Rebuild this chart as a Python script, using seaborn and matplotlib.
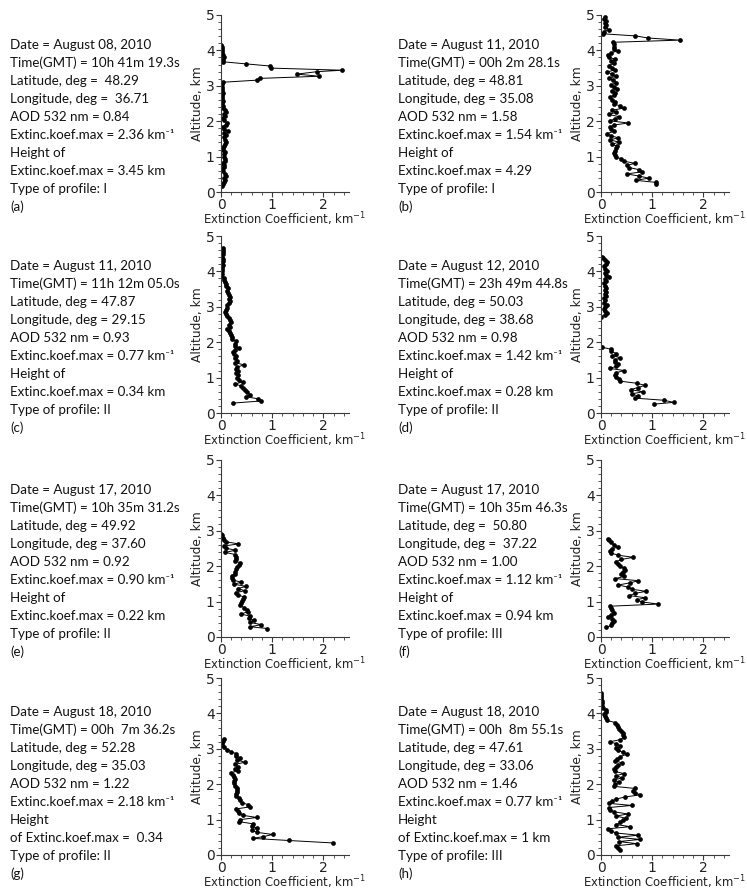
import numpy as np
import matplotlib
matplotlib.use("Agg")
import matplotlib.pyplot as plt
import seaborn as sns
from matplotlib.ticker import MultipleLocator

# Профили (высота, км / коэффициент экстинкции, км^-1)
alt_a = [0.16, 0.22, 0.28, 0.34, 0.40, 0.46, 0.52, 0.58, 0.64, 0.70,
         0.76, 0.82, 0.88, 0.94, 1.00, 1.06, 1.12, 1.18, 1.24, 1.30,
         1.36, 1.42, 1.48, 1.54, 1.60, 1.66, 1.72, 1.78, 1.84, 1.90,
         1.96, 2.02, 2.08, 2.14, 2.20, 2.26, 2.32, 2.38, 2.44, 2.50,
         2.56, 2.62, 2.68, 2.74, 2.80, 2.86, 2.92, 2.98, 3.04, 3.10,
         3.16, 3.21, 3.27, 3.33, 3.40, 3.44, 3.50, 3.56, 3.62, 3.68,
         3.74, 3.80, 3.86, 3.92, 3.98, 4.04, 4.10, 4.16]
ext_a = [0.01, 0.03, 0.06, 0.08, 0.05, 0.09, 0.07, 0.04, 0.02, 0.06,
         0.05, 0.03, 0.07, 0.08, 0.05, 0.06, 0.08, 0.04, 0.03, 0.06,
         0.08, 0.10, 0.07, 0.05, 0.09, 0.06, 0.14, 0.05, 0.03, 0.09,
         0.11, 0.06, 0.04, 0.08, 0.05, 0.10, 0.08, 0.04, 0.03, 0.02,
         0.03, 0.02, 0.01, 0.02, 0.03, 0.02, 0.01, 0.02, 0.01, 0.03,
         0.71, 0.77, 1.92, 1.48, 1.88, 2.37, 0.98, 0.95, 0.48, 0.03,
         0.04, 0.05, 0.03, 0.02, 0.02, 0.01, 0.01, 0.00]

alt_b = [0.22, 0.27, 0.33, 0.39, 0.45, 0.51, 0.57, 0.63, 0.69, 0.75,
         0.81, 0.87, 0.93, 0.99, 1.05, 1.11, 1.17, 1.23, 1.29, 1.35,
         1.41, 1.47, 1.53, 1.59, 1.65, 1.71, 1.77, 1.83, 1.89, 1.95,
         2.01, 2.07, 2.13, 2.19, 2.25, 2.31, 2.37, 2.43, 2.49, 2.55,
         2.61, 2.67, 2.73, 2.79, 2.85, 2.91, 2.97, 3.03, 3.09, 3.15,
         3.21, 3.27, 3.33, 3.39, 3.45, 3.51, 3.57, 3.63, 3.69, 3.75,
         3.81, 3.87, 3.93, 3.99, 4.05, 4.11, 4.17, 4.23, 4.29, 4.35,
         4.41, 4.47, 4.53, 4.59, 4.65, 4.71, 4.77, 4.83, 4.89, 4.95]
ext_b = [1.08, 1.08, 0.68, 0.93, 0.75, 0.50, 0.80, 0.75, 0.55, 0.50,
         0.66, 0.45, 0.40, 0.30, 0.28, 0.25, 0.27, 0.30, 0.32, 0.22,
         0.35, 0.18, 0.33, 0.20, 0.12, 0.25, 0.20, 0.17, 0.25, 0.53,
         0.17, 0.28, 0.35, 0.15, 0.30, 0.22, 0.45, 0.38, 0.25, 0.28,
         0.22, 0.18, 0.25, 0.28, 0.22, 0.32, 0.25, 0.20, 0.30, 0.24,
         0.15, 0.30, 0.22, 0.12, 0.28, 0.22, 0.15, 0.25, 0.20, 0.28,
         0.15, 0.13, 0.20, 0.33, 0.25, 0.25, 0.25, 0.24, 1.54, 0.92,
         0.67, 0.03, 0.05, 0.16, 0.08, 0.09, 0.07, 0.10, 0.06, 0.08]

alt_c = [0.28, 0.34, 0.40, 0.46, 0.52, 0.58, 0.64, 0.70, 0.76, 0.82,
         0.88, 0.94, 1.00, 1.06, 1.12, 1.18, 1.24, 1.30, 1.36, 1.42,
         1.48, 1.54, 1.60, 1.66, 1.72, 1.78, 1.84, 1.90, 1.96, 2.02,
         2.08, 2.14, 2.20, 2.26, 2.32, 2.38, 2.44, 2.50, 2.56, 2.62,
         2.68, 2.74, 2.80, 2.86, 2.92, 2.98, 3.04, 3.10, 3.16, 3.22,
         3.28, 3.34, 3.40, 3.46, 3.52, 3.58, 3.64, 3.70, 3.76, 3.82,
         3.88, 3.94, 4.00, 4.06, 4.12, 4.18, 4.24, 4.30, 4.36, 4.42,
         4.48, 4.54, 4.60, 4.66]
ext_c = [0.23, 0.79, 0.73, 0.48, 0.57, 0.50, 0.47, 0.42, 0.40, 0.28,
         0.42, 0.36, 0.31, 0.34, 0.30, 0.33, 0.30, 0.32, 0.45, 0.28,
         0.32, 0.27, 0.30, 0.25, 0.24, 0.27, 0.35, 0.28, 0.27, 0.30,
         0.22, 0.21, 0.19, 0.18, 0.16, 0.12, 0.17, 0.16, 0.19, 0.18,
         0.15, 0.11, 0.10, 0.08, 0.09, 0.12, 0.11, 0.16, 0.18, 0.16,
         0.17, 0.15, 0.14, 0.12, 0.13, 0.10, 0.10, 0.08, 0.06, 0.05,
         0.00, 0.01, 0.02, 0.02, 0.02, 0.03, 0.02, 0.03, 0.03, 0.02,
         0.03, 0.03, 0.04, 0.04]

alt_d = [0.25, 0.30, 0.36, 0.42, 0.48, 0.54, 0.60, 0.66, 0.72, 0.78,
         0.84, 0.90, 0.96, 1.02, 1.08, 1.14, 1.20, 1.26, 1.32, 1.38,
         1.44, 1.50, 1.56, 1.62, 1.68, 1.74, 1.80, 1.86, 2.72, 2.76,
         2.82, 2.88, 2.94, 3.00, 3.06, 3.12, 3.18, 3.24, 3.30, 3.36,
         3.42, 3.48, 3.54, 3.60, 3.66, 3.72, 3.78, 3.84, 3.90, 3.96,
         4.02, 4.08, 4.14, 4.20, 4.26, 4.32, 4.38, 4.42]
ext_d = [1.03, 1.42, 1.23, 0.66, 0.72, 0.60, 0.82, 0.58, 0.72, 0.86,
         0.70, 0.37, 0.36, 0.30, 0.27, 0.30, 0.45, 0.17, 0.30, 0.34,
         0.28, 0.27, 0.38, 0.22, 0.30, 0.20, 0.20, 0.01, 0.00, 0.07,
         0.12, 0.07, 0.05, 0.08, 0.12, 0.06, 0.08, 0.05, 0.09, 0.07,
         0.10, 0.08, 0.10, 0.08, 0.06, 0.09, 0.07, 0.15, 0.10, 0.08,
         0.12, 0.07, 0.05, 0.10, 0.12, 0.08, 0.03, 0.02]

alt_e = [0.24, 0.29, 0.35, 0.41, 0.47, 0.53, 0.59, 0.65, 0.71, 0.77,
         0.83, 0.89, 0.95, 1.01, 1.07, 1.13, 1.19, 1.25, 1.31, 1.37,
         1.43, 1.49, 1.55, 1.61, 1.67, 1.73, 1.79, 1.85, 1.91, 1.97,
         2.03, 2.09, 2.15, 2.21, 2.27, 2.33, 2.39, 2.45, 2.51, 2.57,
         2.63, 2.69, 2.75, 2.81, 2.87, 2.91]
ext_e = [0.90, 0.57, 0.79, 0.57, 0.64, 0.55, 0.56, 0.39, 0.52, 0.50,
         0.45, 0.38, 0.40, 0.41, 0.42, 0.45, 0.33, 0.30, 0.46, 0.33,
         0.49, 0.26, 0.39, 0.23, 0.21, 0.22, 0.27, 0.28, 0.30, 0.32,
         0.35, 0.38, 0.28, 0.30, 0.29, 0.28, 0.08, 0.28, 0.10, 0.06,
         0.34, 0.10, 0.05, 0.03, 0.01, 0.00]

alt_f = [0.27, 0.33, 0.39, 0.45, 0.51, 0.57, 0.63, 0.69, 0.75, 0.81,
         0.87, 0.93, 0.99, 1.05, 1.11, 1.17, 1.23, 1.29, 1.35, 1.41,
         1.47, 1.53, 1.59, 1.65, 1.71, 1.77, 1.83, 1.89, 1.95, 2.01,
         2.07, 2.13, 2.19, 2.25, 2.31, 2.37, 2.43, 2.49, 2.55, 2.61,
         2.67, 2.73, 2.76]
ext_f = [0.10, 0.20, 0.21, 0.25, 0.22, 0.14, 0.20, 0.26, 0.22, 0.19,
         0.18, 1.12, 0.80, 0.70, 0.86, 0.55, 0.66, 0.88, 0.60, 0.52,
         0.34, 0.57, 0.73, 0.28, 0.45, 0.40, 0.42, 0.47, 0.44, 0.38,
         0.34, 0.30, 0.40, 0.63, 0.34, 0.20, 0.18, 0.22, 0.34, 0.25,
         0.20, 0.15, 0.13]

alt_g = [0.34, 0.41, 0.47, 0.52, 0.58, 0.64, 0.70, 0.76, 0.82, 0.88,
         0.94, 1.00, 1.06, 1.12, 1.18, 1.24, 1.30, 1.36, 1.42, 1.48,
         1.54, 1.60, 1.66, 1.72, 1.78, 1.84, 1.90, 1.96, 2.02, 2.08,
         2.14, 2.20, 2.26, 2.32, 2.38, 2.44, 2.50, 2.56, 2.62, 2.68,
         2.74, 2.80, 2.86, 2.92, 2.98, 3.04, 3.10, 3.16, 3.22, 3.27]
ext_g = [2.19, 1.32, 0.62, 0.83, 1.01, 0.70, 0.60, 0.70, 0.60, 0.63,
         0.36, 0.38, 0.70, 0.43, 0.35, 0.33, 0.29, 0.57, 0.53, 0.41,
         0.38, 0.35, 0.30, 0.29, 0.32, 0.31, 0.32, 0.27, 0.26, 0.25,
         0.27, 0.26, 0.24, 0.19, 0.34, 0.28, 0.33, 0.27, 0.47, 0.32,
         0.38, 0.30, 0.30, 0.20, 0.12, 0.05, 0.02, 0.01, 0.04, 0.05]

alt_h = [0.15, 0.20, 0.26, 0.32, 0.38, 0.44, 0.50, 0.56, 0.62, 0.68,
         0.74, 0.80, 0.86, 0.92, 0.98, 1.04, 1.10, 1.16, 1.22, 1.28,
         1.34, 1.40, 1.46, 1.52, 1.58, 1.64, 1.70, 1.76, 1.82, 1.88,
         1.94, 2.00, 2.06, 2.12, 2.18, 2.24, 2.30, 2.36, 2.42, 2.48,
         2.54, 2.60, 2.66, 2.72, 2.78, 2.84, 2.90, 2.96, 3.02, 3.08,
         3.14, 3.20, 3.26, 3.32, 3.38, 3.44, 3.50, 3.56, 3.62, 3.68,
         3.74, 3.80, 3.86, 3.92, 3.98, 4.04, 4.10, 4.16, 4.22, 4.28,
         4.34, 4.40, 4.46, 4.52, 4.58]
ext_h = [0.37, 0.34, 0.30, 0.70, 0.35, 0.76, 0.33, 0.73, 0.30, 0.20,
         0.14, 0.57, 0.30, 0.38, 0.42, 0.48, 0.30, 0.52, 0.25, 0.18,
         0.15, 0.60, 0.15, 0.22, 0.30, 0.47, 0.77, 0.66, 0.62, 0.66,
         0.25, 0.28, 0.35, 0.26, 0.41, 0.30, 0.44, 0.28, 0.25, 0.30,
         0.34, 0.41, 0.28, 0.32, 0.37, 0.50, 0.42, 0.34, 0.30, 0.38,
         0.30, 0.18, 0.38, 0.44, 0.43, 0.42, 0.40, 0.36, 0.33, 0.31,
         0.28, 0.12, 0.10, 0.08, 0.06, 0.10, 0.09, 0.04, 0.02, 0.01,
         0.01, 0.00, 0.00, 0.00, 0.00]

texts = {
    "a": ["Date = August 08, 2010", "Time(GMT) = 10h 41m 19.3s", "Latitude, deg =  48.29",
          "Longitude, deg =  36.71", "AOD 532 nm = 0.84", "Extinc.koef.max = 2.36 km⁻¹",
          "Height of", "Extinc.koef.max = 3.45 km", "Type of profile: I"],
    "b": ["Date = August 11, 2010", "Time(GMT) = 00h 2m 28.1s", "Latitude, deg = 48.81",
          "Longitude, deg = 35.08", "AOD 532 nm = 1.58", "Extinc.koef.max = 1.54 km⁻¹",
          "Height of", "Extinc.koef.max = 4.29", "Type of profile: I"],
    "c": ["Date = August 11, 2010", "Time(GMT) = 11h 12m 05.0s", "Latitude, deg = 47.87",
          "Longitude, deg = 29.15", "AOD 532 nm = 0.93", "Extinc.koef.max = 0.77 km⁻¹",
          "Height of", "Extinc.koef.max = 0.34 km", "Type of profile: II"],
    "d": ["Date = August 12, 2010", "Time(GMT) = 23h 49m 44.8s", "Latitude, deg = 50.03",
          "Longitude, deg = 38.68", "AOD 532 nm = 0.98", "Extinc.koef.max = 1.42 km⁻¹",
          "Height of", "Extinc.koef.max = 0.28 km", "Type of profile: II"],
    "e": ["Date = August 17, 2010", "Time(GMT) = 10h 35m 31.2s", "Latitude, deg = 49.92",
          "Longitude, deg = 37.60", "AOD 532 nm = 0.92", "Extinc.koef.max = 0.90 km⁻¹",
          "Height of", "Extinc.koef.max = 0.22 km", "Type of profile: II"],
    "f": ["Date = August 17, 2010", "Time(GMT) = 10h 35m 46.3s", "Latitude, deg =  50.80",
          "Longitude, deg =  37.22", "AOD 532 nm = 1.00", "Extinc.koef.max = 1.12 km⁻¹",
          "Height of", "Extinc.koef.max = 0.94 km", "Type of profile: III"],
    "g": ["Date = August 18, 2010", "Time(GMT) = 00h  7m 36.2s", "Latitude, deg = 52.28",
          "Longitude, deg = 35.03", "AOD 532 nm = 1.22", "Extinc.koef.max = 2.18 km⁻¹",
          "Height", "of Extinc.koef.max =  0.34", "Type of profile: II"],
    "h": ["Date = August 18, 2010", "Time(GMT) = 00h  8m 55.1s", "Latitude, deg = 47.61",
          "Longitude, deg = 33.06", "AOD 532 nm = 1.46", "Extinc.koef.max = 0.77 km⁻¹",
          "Height", "of Extinc.koef.max = 1 km", "Type of profile: III"],
}

profiles = {"a": (alt_a, ext_a), "b": (alt_b, ext_b), "c": (alt_c, ext_c), "d": (alt_d, ext_d),
            "e": (alt_e, ext_e), "f": (alt_f, ext_f), "g": (alt_g, ext_g), "h": (alt_h, ext_h)}

sns.set_style("ticks")
plt.rcParams["font.family"] = ["DejaVu Sans"]

W, H = 747, 890
fig = plt.figure(figsize=(W / 100, H / 100), dpi=100)

# положение осей в пикселях
row_tops = [15, 236, 460, 678]
col_left = [221, 601]
col_text = [10, 398]
ax_w, ax_h = 128, 177
grey = "#3a3a3a"
txt_font = ["Lato", "DejaVu Sans"]

for i, key in enumerate("abcdefgh"):
    r, c = divmod(i, 2)
    top = row_tops[r]
    ax = fig.add_axes([col_left[c] / W, 1 - (top + ax_h) / H, ax_w / W, ax_h / H])
    alt, ext = profiles[key]
    sns.lineplot(x=ext, y=alt, sort=False, estimator=None, ax=ax, color="black",
                 linewidth=0.7, marker="o", markersize=3.4, markeredgewidth=0)
    ax.set_xlim(0, 2.5)
    ax.set_ylim(0, 5)
    ax.xaxis.set_major_locator(MultipleLocator(1))
    ax.xaxis.set_minor_locator(MultipleLocator(0.2))
    ax.yaxis.set_major_locator(MultipleLocator(1))
    ax.yaxis.set_minor_locator(MultipleLocator(0.2))
    ax.tick_params(which="major", length=3.5, width=0.8, color=grey, labelsize=10,
                   labelcolor="#222222", pad=1)
    ax.tick_params(which="minor", length=2, width=0.6, color=grey)
    sns.despine(ax=ax)
    for s in ["left", "bottom"]:
        ax.spines[s].set_color(grey)
        ax.spines[s].set_linewidth(0.8)
    ax.set_xlabel("Extinction Coefficient, km$^{-1}$", fontsize=8.4, color="#222222", va="center")
    ax.xaxis.set_label_coords(0.5, -27.5 / ax_h)
    ax.set_ylabel("Altitude, km", fontsize=8.8, color="#222222", labelpad=1)

    # подписи слева от графика
    y0 = row_tops[r] + 30 if r < 3 else 712
    for j, line in enumerate(texts[key]):
        fig.text(col_text[c] / W, 1 - (y0 + j * 18) / H, line, fontsize=9.6,
                 family=txt_font, va="center", ha="left", color="#111111")
    fig.text(col_text[c] / W, 1 - (y0 + 162) / H, f"({key})", fontsize=9.6,
             family=txt_font, va="center", ha="left", color="#111111")

fig.savefig("out.png", dpi=100)
